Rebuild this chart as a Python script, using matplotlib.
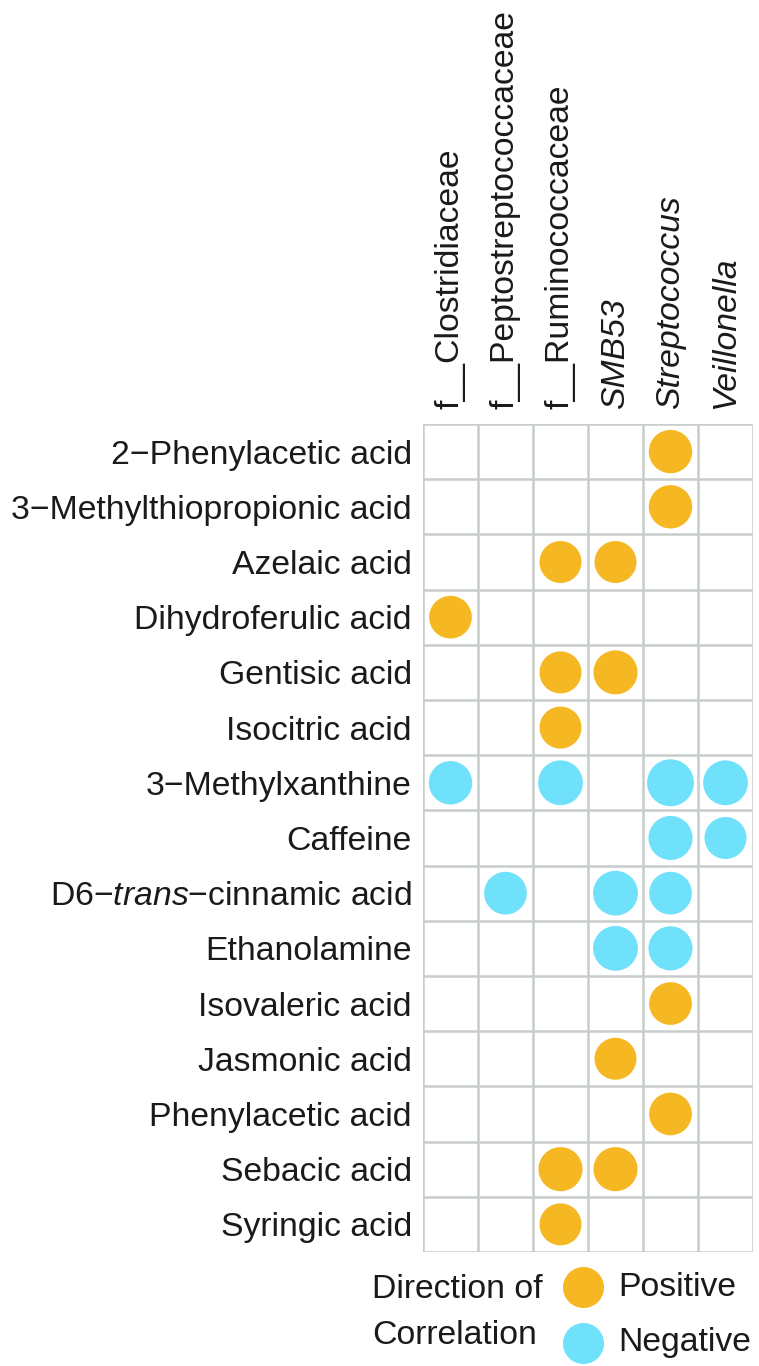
import matplotlib
matplotlib.use("Agg")
import matplotlib.pyplot as plt

plt.rcParams['font.family'] = ['Liberation Sans', 'DejaVu Sans']
plt.rcParams['mathtext.fontset'] = 'custom'
plt.rcParams['mathtext.rm'] = 'Liberation Sans'
plt.rcParams['mathtext.it'] = 'Liberation Sans:italic'

# --- data ---
taxa = ["f__Clostridiaceae", "f__Peptostreptococcaceae", "f__Ruminococcaceae",
        "SMB53", "Streptococcus", "Veillonella"]
taxa_italic = [False, False, False, True, True, True]

metabolites = ["2\u2212Phenylacetic acid", "3\u2212Methylthiopropionic acid", "Azelaic acid",
               "Dihydroferulic acid", "Gentisic acid", "Isocitric acid", "3\u2212Methylxanthine",
               "Caffeine", "D6\u2212$\\it{trans}$\u2212cinnamic acid", "Ethanolamine",
               "Isovaleric acid", "Jasmonic acid", "Phenylacetic acid", "Sebacic acid",
               "Syringic acid"]

# significant correlations: (metabolite index, taxon index, rho)
cell_row = [0, 1, 2, 2, 3, 4, 4, 5, 6, 6, 6, 6, 7, 7, 8, 8, 8, 9, 9, 10, 11, 12, 13, 13, 14]
cell_col = [4, 4, 2, 3, 0, 2, 3, 2, 0, 2, 4, 5, 4, 5, 1, 3, 4, 3, 4, 4, 3, 4, 2, 3, 2]
cell_rho = [0.62, 0.62, 0.60, 0.60, 0.61, 0.60, 0.63, 0.60,
            -0.62, -0.64, -0.67, -0.64, -0.63, -0.60,
            -0.61, -0.64, -0.61, -0.64, -0.63,
            0.61, 0.60, 0.61, 0.63, 0.63, 0.60]

pos_color = "#F6B822"
neg_color = "#70E1FA"
grid_color = "#C6CDCC"
text_color = "#1A1A1A"
fs = 24.3

fig = plt.figure(figsize=(7.59, 13.66), dpi=100)
ax = fig.add_axes([0.5573, 0.0835, 0.4348, 0.6061])

# circle diameter in px proportional to |rho|, converted to points^2
sizes = [(70 * abs(r) * 0.72) ** 2 for r in cell_rho]
colors = [pos_color if r > 0 else neg_color for r in cell_rho]
ax.scatter(cell_col, cell_row, s=sizes, c=colors, linewidths=0, zorder=3)

ax.set_xlim(-0.5, len(taxa) - 0.5)
ax.set_ylim(len(metabolites) - 0.5, -0.5)

# cell grid
for i in range(len(taxa) + 1):
    ax.axvline(i - 0.5, color=grid_color, lw=1.8, zorder=1)
for j in range(len(metabolites) + 1):
    ax.axhline(j - 0.5, color=grid_color, lw=1.8, zorder=1)
for sp in ax.spines.values():
    sp.set_visible(False)

ax.set_yticks(range(len(metabolites)))
ax.set_yticklabels(metabolites, fontsize=fs, color=text_color)
ax.xaxis.tick_top()
ax.set_xticks(range(len(taxa)))
ax.set_xticklabels(taxa, rotation=90, fontsize=fs, color=text_color, va='bottom')
for lab, it in zip(ax.get_xticklabels(), taxa_italic):
    if it:
        lab.set_fontstyle('italic')
ax.tick_params(length=0, pad=8)
ax.tick_params(axis='x', pad=11)

# legend
fig.text(372 / 759, 1 - 1289 / 1366, "Direction of", fontsize=fs, color=text_color,
         ha='left', va='center')
fig.text(372 / 759, 1 - 1336 / 1366, "Correlation", fontsize=fs, color=text_color,
         ha='left', va='center')
leg_labels = ["Positive", "Negative"]
leg_colors = [pos_color, neg_color]
leg_y = [1 - 1287 / 1366, 1 - 1343 / 1366]
for lab, col, y in zip(leg_labels, leg_colors, leg_y):
    ax.scatter([583 / 759], [y], s=(41 * 0.72) ** 2, c=col, linewidths=0,
               transform=fig.transFigure, clip_on=False, zorder=3)
    fig.text(618 / 759, y, lab, fontsize=fs, color=text_color, ha='left', va='center')

fig.savefig("out.png", dpi=100, facecolor="white")
